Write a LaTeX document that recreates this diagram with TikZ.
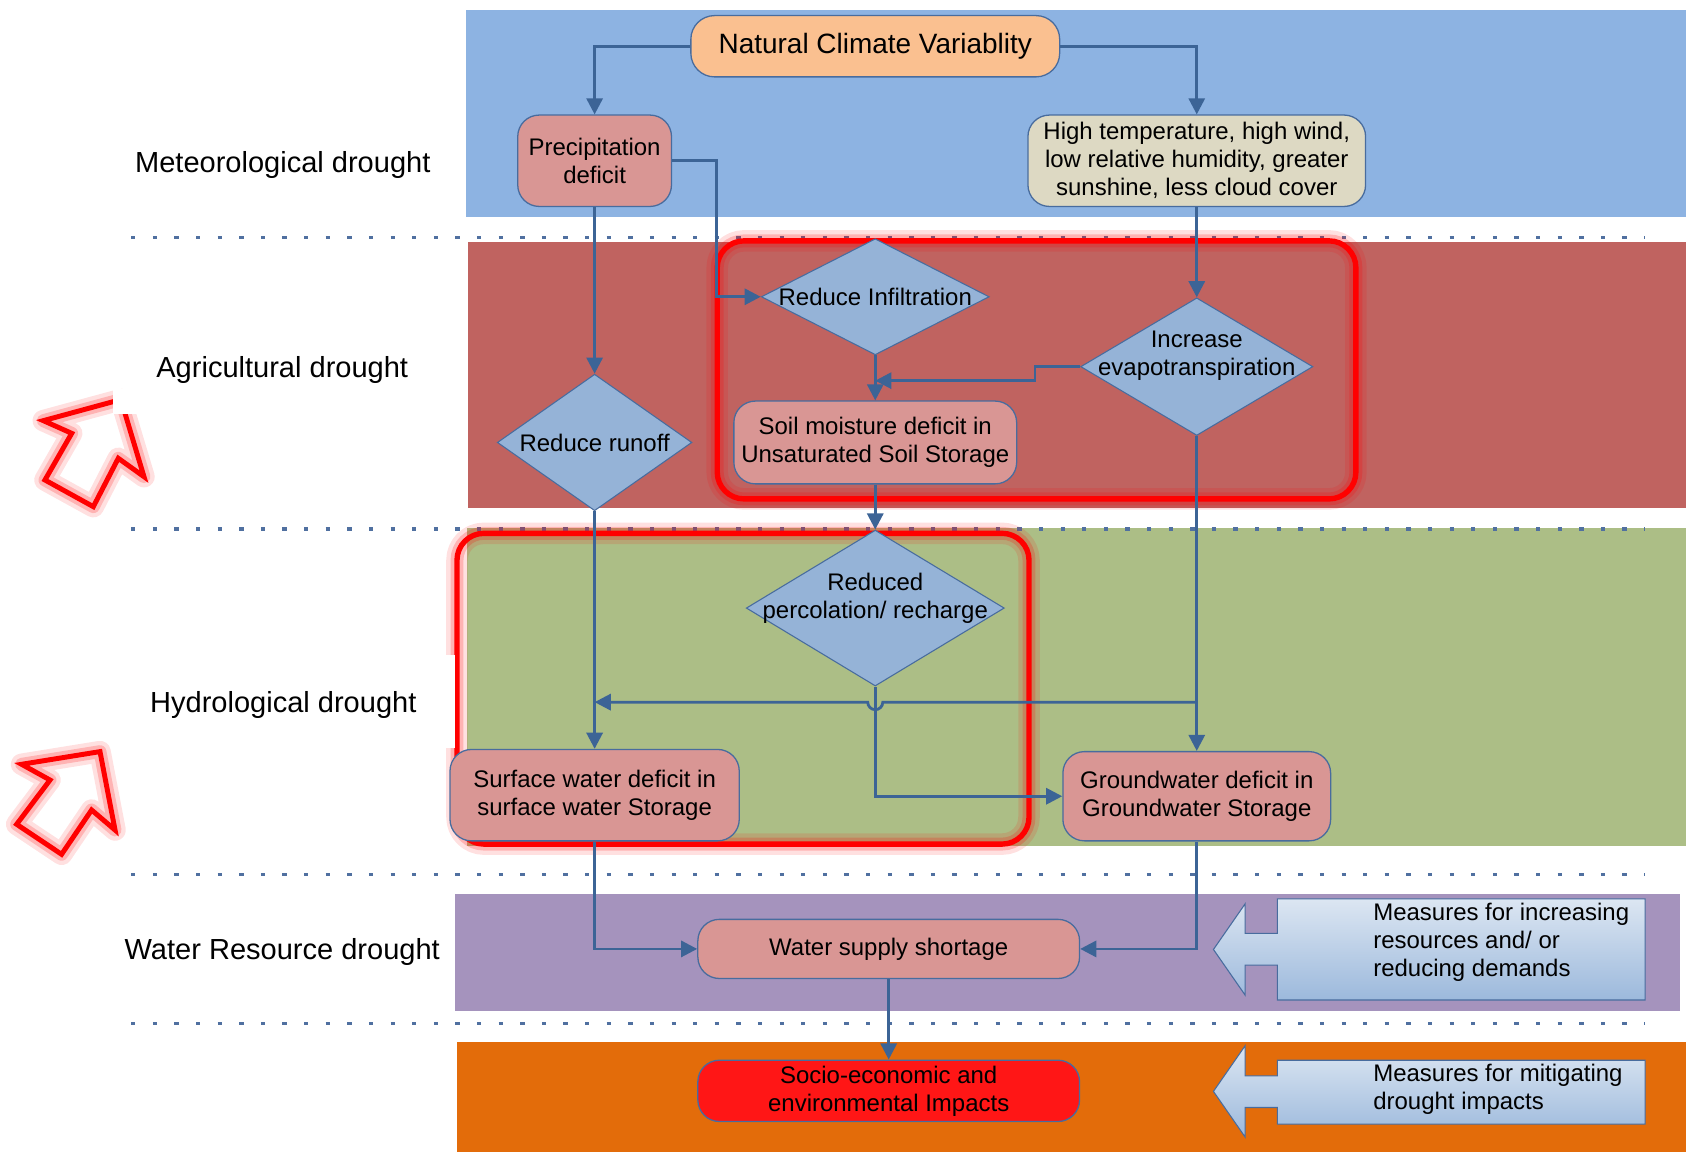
\documentclass[tikz,border=0pt]{standalone}
\usepackage{fontspec}
\setmainfont{Liberation Sans}
\usetikzlibrary{shapes.geometric,arrows.meta}
\definecolor{bandblue}{RGB}{141,179,226}
\definecolor{bandred}{RGB}{192,99,96}
\definecolor{bandgreen}{RGB}{172,190,134}
\definecolor{bandpurple}{RGB}{165,147,189}
\definecolor{bandorange}{RGB}{227,108,10}
\definecolor{boxpink}{RGB}{217,150,148}
\definecolor{boxdia}{RGB}{149,179,215}
\definecolor{boxbeige}{RGB}{221,217,195}
\definecolor{boxpeach}{RGB}{250,192,144}
\definecolor{boxred}{RGB}{255,22,22}
\definecolor{edgec}{RGB}{72,108,158}
\definecolor{flowc}{RGB}{60,100,150}
\definecolor{dotc}{RGB}{80,112,160}
\definecolor{calltop}{RGB}{220,230,242}
\definecolor{callbot}{RGB}{156,185,220}
\begin{document}
\begin{tikzpicture}[x=1pt,y=-1pt,>={Triangle[length=15pt,width=15pt]},
  txt/.style={font=\fontsize{22.3}{26}\selectfont,align=center,inner sep=0pt},
  lbl/.style={font=\fontsize{27}{30}\selectfont,inner sep=0pt,yshift=-3pt},
  box/.style={txt,draw=edgec,line width=1.2pt,rounded corners=20pt},
  dia/.style={diamond,draw=edgec,line width=1pt,fill=boxdia,inner sep=0pt},
  dlab/.style={txt},
  flow/.style={draw=flowc,line width=2.6pt,->},
  dotline/.style={draw=dotc,line width=3pt,dash pattern=on 4pt off 16.1pt},
  hl/.style={draw=red,line width=5pt,rounded corners=25pt,
    preaction={draw=red,draw opacity=.12,line width=20pt,line join=round},
    preaction={draw=red,draw opacity=.2,line width=12pt,line join=round}},
  callout/.style={draw=edgec,line width=1pt,top color=calltop,bottom color=callbot}]
\useasboundingbox (0,0) rectangle (1568,1071);
% bands
\foreach \c/\xa/\ya/\xb/\yb in {bandblue/433/9.5/1568/201.5,bandred/435/225.5/1568/472.5,
  bandgreen/434/491/1568/786.5,bandpurple/423/831.5/1562.5/940,bandorange/425/969/1568/1071}
  \fill[\c] (\xa,\ya) rectangle (\xb,\yb);
% dotted separators
\foreach \y in {221,492,813.5,952} \draw[dotline] (122,\y) -- (1530,\y);
% highlighted groups
\draw[hl] (667,224) rectangle (1261,464);
\draw[hl] (425,496) rectangle (957,785);
\fill[white] (380,609) rectangle (423,696);
% arrows on the left
\draw[hl,rounded corners=0pt,line width=4.6pt] (112.4,371.6) -- (133.9,443.3) -- (110,426.2) -- (86.8,471.2)
  -- (41.8,446.4) -- (66.7,403) -- (40.3,391.2) -- cycle;
\fill[white] (105,362) rectangle (142,385);
\draw[hl,rounded corners=0pt,line width=4.6pt] (93,699) -- (107,771.9) -- (85.2,753.3) -- (57.3,794.5)
  -- (15.5,766.6) -- (46.5,725.4) -- (20.1,710.8) -- cycle;
% level labels
\node[lbl] (met) at (263,150) {Meteorological drought};
\node[lbl] (agr) at (262.5,341) {Agricultural drought};
\node[lbl] (hyd) at (263.5,653) {Hydrological drought};
\node[lbl] (wat) at (262.5,882) {Water Resource drought};
% boxes
\node[box,fill=boxpeach,minimum width=343pt,minimum height=57pt,rounded corners=22pt,
  font=\fontsize{26}{30}\selectfont] (ncv) at (814,43) {Natural Climate Variablity};
\node[box,fill=boxpink,minimum width=143pt,minimum height=85pt] (precip) at (553,149.5) {Precipitation\\deficit};
\node[box,fill=boxbeige,minimum width=314pt,minimum height=85pt] (temp) at (1113,149.5)
  {High temperature, high wind,\\low relative humidity, greater\\sunshine, less cloud cover};
\node[dia,minimum width=212pt,minimum height=108pt,label={[dlab]center:Reduce Infiltration}] (infil) at (814,276) {};
\node[dia,minimum width=216pt,minimum height=128pt,
  label={[dlab,yshift=10pt]center:Increase\\evapotranspiration}] (evap) at (1113,341) {};
\node[dia,minimum width=181pt,minimum height=127pt,label={[dlab]center:Reduce runoff}] (runoff) at (553,411.5) {};
\node[box,fill=boxpink,minimum width=263pt,minimum height=77pt] (soil) at (814,411.5)
  {Soil moisture deficit in\\Unsaturated Soil Storage};
\node[dia,minimum width=240pt,minimum height=145pt,
  label={[dlab,yshift=9.5pt]center:Reduced\\percolation/ recharge}] (perc) at (814,565.5) {};
\node[box,fill=boxpink,minimum width=269pt,minimum height=85pt] (surf) at (553,739.5)
  {Surface water deficit in\\surface water Storage};
\node[box,fill=boxpink,minimum width=249pt,minimum height=83pt] (grnd) at (1113,740.5)
  {Groundwater deficit in\\Groundwater Storage};
\node[box,fill=boxpink,minimum width=355pt,minimum height=55pt] (supply) at (826.5,882.5) {Water supply shortage};
\node[box,fill=boxred,minimum width=355pt,minimum height=57pt] (impact) at (826.5,1014.5)
  {Socio-economic and\\environmental Impacts};
% measures
\path[callout] (1530,836) -- (1188,836) -- (1188,868) -- (1158,868) -- (1158,840.5) -- (1128.5,883)
  -- (1158,925.5) -- (1158,897.5) -- (1188,897.5) -- (1188,930) -- (1530,930) -- cycle;
\node[txt,align=left,anchor=west] (meas1) at (1277,876) {Measures for increasing\\resources and/ or\\reducing demands};
\path[callout] (1530,986) -- (1188,986) -- (1188,1000.5) -- (1158,1000.5) -- (1158,972.5) -- (1128.5,1015)
  -- (1158,1057.5) -- (1158,1030) -- (1188,1030) -- (1188,1045.5) -- (1530,1045.5) -- cycle;
\node[txt,align=left,anchor=west] (meas2) at (1277,1013) {Measures for mitigating\\drought impacts};
% connectors
\coordinate (jsoil) at (814,354);
\coordinate (jgw) at (1113,653);
\coordinate (jsw) at (553,653);
\draw[flow] (ncv.west) -| (precip.north);
\draw[flow] (ncv.east) -| (temp.north);
\draw[flow] (precip.south) -- (runoff.north);
\draw[flow] (precip.east) -- ++(41,0) |- (infil.west);
\draw[flow] (temp.south) -- (evap.north);
\draw[flow] (infil.south) -- (soil.north);
\draw[flow] (evap.west) -- ++(-42,0) |- (jsoil);
\draw[flow] (runoff.south) -- (surf.north);
\draw[flow] (soil.south) -- (perc.north);
\draw[flow] (perc.south) |- (grnd.west);
\draw[flow] (evap.south) -- (grnd.north);
\draw[flow] (jgw) -- (821,653) arc[start angle=0,end angle=-180,radius=7pt] -- (jsw);
\draw[flow] (surf.south) |- (supply.west);
\draw[flow] (grnd.south) |- (supply.east);
\draw[flow] (supply.south) -- (impact.north);
\end{tikzpicture}
\end{document}
